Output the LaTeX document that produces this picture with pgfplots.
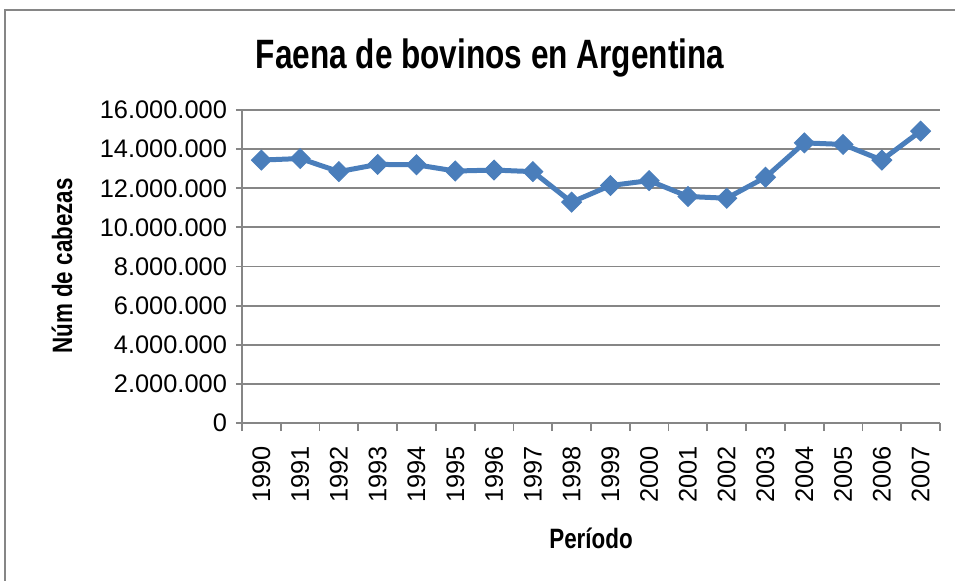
\documentclass[border=0pt]{standalone}
\usepackage{fontspec}
\setmainfont{Liberation Sans}
\newfontfamily\narrowbold[FakeStretch=0.77]{Liberation Sans Bold}
\newfontfamily\narrowboldl[FakeStretch=0.8]{Liberation Sans Bold}
\usepackage{pgfplots}
\pgfplotsset{compat=1.18}
\definecolor{serie}{HTML}{4A7EBB}
\definecolor{gridc}{HTML}{868686}
\begin{document}
\begin{tikzpicture}
\useasboundingbox (0,0) rectangle (477.5pt,-290pt);
\draw[gridc, line width=1pt] (2.5pt,-300pt) -- (2.5pt,-5pt) -- (490pt,-5pt);
\begin{axis}[
  at={(121pt,-211.5pt)}, anchor=south west,
  scale only axis, width=349pt, height=156.5pt,
  xmin=-0.5, xmax=17.5, ymin=0, ymax=16000000,
  axis x line*=bottom, axis y line*=left,
  axis line style={gridc, line width=0.9pt},
  xtick={0,...,17},
  xticklabels={1990,1991,1992,1993,1994,1995,1996,1997,1998,1999,2000,2001,2002,2003,2004,2005,2006,2007},
  major x tick style={draw=none},
  minor xtick={-0.5,0.5,...,17.5},
  minor x tick style={gridc, line width=0.9pt},
  minor tick length=4pt,
  ytick={0,2000000,...,16000000},
  major y tick style={gridc, line width=0.9pt},
  major tick length=3pt,
  tick align=outside,
  ymajorgrids, major grid style={gridc, line width=0.9pt},
  scaled y ticks=false,
  yticklabel style={/pgf/number format/.cd, fixed, 1000 sep={.}, assume math mode=true},
  tick label style={font=\fontsize{12.7pt}{14pt}\selectfont},
  x tick label style={rotate=90, anchor=east},
  xticklabel shift=5pt,
  yticklabel shift=1pt,
  clip=false,
]
\addplot[serie, line width=2.5pt, mark=square*, mark size=3.5pt, mark options={rotate=45, fill=serie, draw=serie, line width=0.5pt}]
coordinates {
(0,13440000) (1,13520000) (2,12850000) (3,13220000) (4,13200000) (5,12880000)
(6,12930000) (7,12850000) (8,11290000) (9,12140000) (10,12390000) (11,11580000)
(12,11490000) (13,12560000) (14,14320000) (15,14240000) (16,13440000) (17,14920000)
};
\end{axis}
\node[anchor=base, font=\narrowbold\fontsize{20.5pt}{22pt}\selectfont] at (245pt,-34pt) {Faena de bovinos en Argentina};
\node[anchor=base, font=\narrowboldl\fontsize{14pt}{16pt}\selectfont] at (295.5pt,-274pt) {Período};
\node[rotate=90, font=\narrowboldl\fontsize{14pt}{16pt}\selectfont] at (31pt,-133pt) {Núm de cabezas};
\end{tikzpicture}
\end{document}
